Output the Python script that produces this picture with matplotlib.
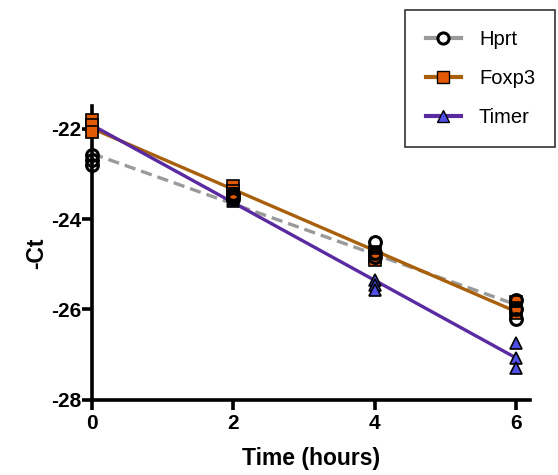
import numpy as np
import matplotlib.pyplot as plt
from matplotlib.lines import Line2D

plt.rcParams['font.family'] = ['Liberation Sans', 'DejaVu Sans']
plt.rcParams['font.weight'] = 'bold'
plt.rcParams['axes.unicode_minus'] = False

# sampling times (hours), three replicates per time point
hours = [0, 2, 4, 6]

hprt = [
    [-22.58, -22.69, -22.80],
    [-23.45, -23.50, -23.56],
    [-24.50, -24.75, -24.85],
    [-25.78, -26.00, -26.22],
]
foxp3 = [
    [-21.82, -21.92, -22.08],
    [-23.28, -23.38, -23.45],
    [-24.72, -24.85, -24.90],
    [-25.83, -25.96, -26.07],
]
timer = [
    [-21.85, -21.95, -22.05],
    [-23.50, -23.55, -23.60],
    [-25.35, -25.45, -25.58],
    [-26.73, -27.07, -27.29],
]

series = [
    # name, values, line colour, line style, marker, face, size, zorder
    ("Hprt", hprt, "#9a9a9a", (0, (3.4, 1.8)), "o", "none", 8.5, 6),
    ("Foxp3", foxp3, "#a8600c", "-", "s", "#e35a06", 9, 5),
    ("Timer", timer, "#5a2aa0", "-", "^", "#4f4fe6", 9, 4),
]

fig = plt.figure(figsize=(5.58, 4.75), dpi=100)
ax = fig.add_axes([0.165, 0.158, 0.785, 0.619])

handles = []
for name, vals, lc, ls, mk, fc, ms, z in series:
    xs = np.repeat(hours, 3)
    ys = np.array(vals).ravel()
    # linear fit through all replicates
    slope, icpt = np.polyfit(xs, ys, 1)
    fx = np.array([hours[0], hours[-1]])
    ax.plot(fx, icpt + slope * fx, color=lc, lw=2.4, linestyle=ls,
            zorder=2, clip_on=False, solid_capstyle='butt')
    ax.plot(xs, ys, linestyle='none', marker=mk, ms=ms, mfc=fc, mec='black',
            mew=2.2 if mk == "o" else 1.2, zorder=z, clip_on=False)
    handles.append(Line2D([], [], color=lc, lw=3, linestyle='-', marker=mk,
                          ms=ms - 0.5, mfc='white' if fc == "none" else fc,
                          mec='black', mew=2.2 if mk == "o" else 1.0,
                          label=name))

ax.set_xlim(0, 6.2)
ax.set_ylim(-28, -21.5)
ax.set_xticks([0, 2, 4, 6])
ax.set_yticks([-28, -26, -24, -22])
for side in ("top", "right"):
    ax.spines[side].set_visible(False)
for side in ("left", "bottom"):
    ax.spines[side].set_linewidth(2.6)
ax.tick_params(width=2.6, length=7, labelsize=15)
ax.tick_params(axis='x', pad=3)
ax.tick_params(axis='y', pad=1)
for lab in ax.get_xticklabels() + ax.get_yticklabels():
    lab.set_fontweight('bold')

ax.set_xlabel("Time (hours)", fontsize=16.5, fontweight='bold', labelpad=10)
ax.set_ylabel("-Ct", fontsize=16.5, fontweight='bold', labelpad=2)

leg = fig.legend(handles=handles, loc='upper right',
                 bbox_to_anchor=(0.995, 0.98), frameon=True, fancybox=False,
                 edgecolor='black', fontsize=14.5, handlelength=1.75,
                 handletextpad=0.9, labelspacing=1.0, borderpad=1.0,
                 borderaxespad=0)
leg.get_frame().set_linewidth(1.2)
for t in leg.get_texts():
    t.set_fontweight('normal')

fig.savefig("out.png", dpi=100)
